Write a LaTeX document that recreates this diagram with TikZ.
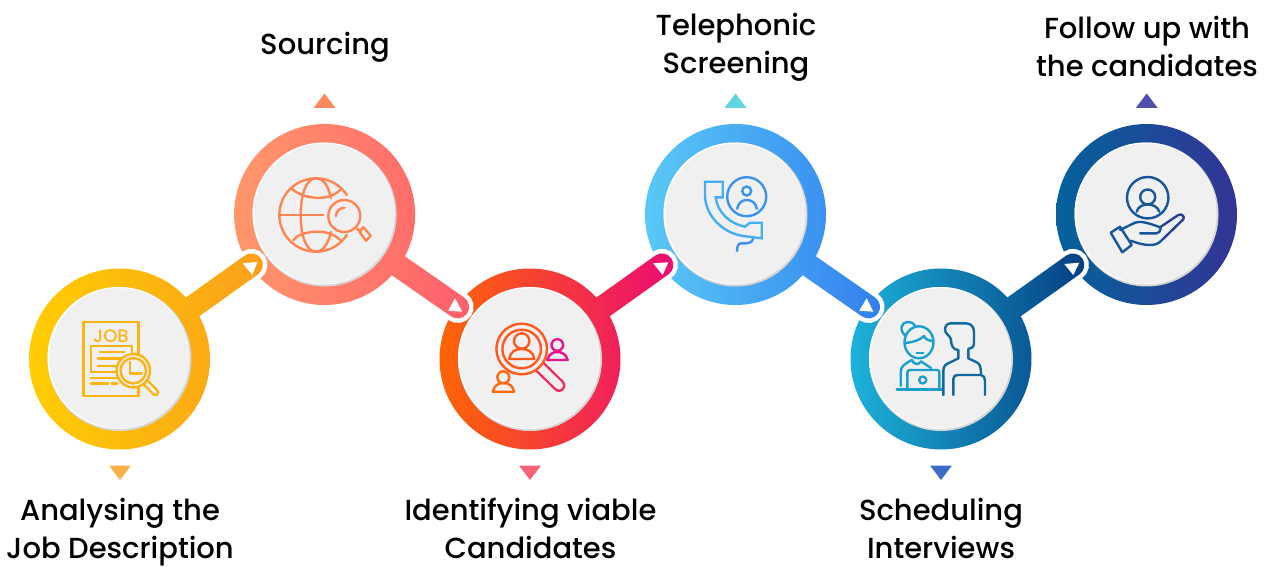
\documentclass[tikz,border=0pt]{standalone}
\usepackage{fontspec}
\setmainfont{Poppins}[UprightFont={* Medium}]
\usetikzlibrary{calc}
\usepackage{xcolor}
\definecolor{discgray}{HTML}{f0f0f0}
\definecolor{discshade}{HTML}{d6d6d6}
\definecolor{ringl1}{HTML}{ffd000}
\definecolor{ringr1}{HTML}{f9a01b}
\definecolor{ringl2}{HTML}{ff9a6b}
\definecolor{ringr2}{HTML}{ff5f6b}
\definecolor{ringl3}{HTML}{ff6a00}
\definecolor{ringr3}{HTML}{ec0b75}
\definecolor{ringl4}{HTML}{5ccdf5}
\definecolor{ringr4}{HTML}{327fef}
\definecolor{ringl5}{HTML}{1eb8de}
\definecolor{ringr5}{HTML}{043e80}
\definecolor{ringl6}{HTML}{04629c}
\definecolor{ringr6}{HTML}{343494}
\definecolor{jobicon}{HTML}{fbb414}
\definecolor{webicon}{HTML}{ff8552}
\definecolor{findicon}{HTML}{ff5a1e}
\definecolor{findhandle}{HTML}{f42a5e}
\definecolor{findright}{HTML}{e8148a}
\definecolor{findleft}{HTML}{ff6a10}
\definecolor{phoneicon}{HTML}{45aef2}
\definecolor{phonecall}{HTML}{3b92ef}
\definecolor{womanicon}{HTML}{1b9fcb}
\definecolor{manicon}{HTML}{12699f}
\definecolor{careicon}{HTML}{17569a}
\definecolor{caretip}{HTML}{2d3f94}
\tikzset{
  steplabel/.style={font=\fontsize{29}{38}\selectfont,align=center,inner sep=0pt},
  iconline/.style={line width=2.4pt,line join=round,line cap=round},
  capsule/.style={double=discgray,double distance=#1,line width=2.4pt,line cap=round},
  capsule/.default=3pt
}
\begin{document}
\begin{tikzpicture}[x=1pt,y=1pt,yscale=-1]
          \useasboundingbox (0,0) rectangle (1266,567);
          \foreach \n/\x/\y in {1/119.5/359,2/324.6/214.5,3/530/359,4/735.5/214.5,5/941/359,6/1146.5/214.5}
            \coordinate (ring\n) at (\x,\y);
          \foreach \n/\ang in {6/0,5/-35.5,4/34.8,3/-35.5,2/34.8,1/-35.5}{
            \ifnum\n<6
              \begin{scope}[shift={(ring\n)},rotate=\ang]
                \draw[white,line width=9pt] (0,-11.5) -- (162,-11.5) arc (-90:90:11.5) -- (0,11.5);
                \shade[left color=ringl\n,right color=ringr\n] (0,0) circle (90.5) (0,-11.5) -- (162,-11.5) arc (-90:90:11.5) -- (0,11.5) -- cycle;
              \end{scope}
            \else
              \shade[left color=ringl\n,right color=ringr\n] (ring\n) circle (90.5);
            \fi
            \fill[discshade] (ring\n) circle (72);
            \fill[white] ($(ring\n)+(-1,-1)$) circle (71);
            \node[circle,fill=discgray,minimum size=140pt,inner sep=0pt] (disc\n) at ($(ring\n)+(-0.3,-0.8)$) {};
          }
          \fill[white] (242.7,263.3) -- (257.3,262) -- (252.3,275) -- cycle;
          \fill[white] (448.3,310.7) -- (462.3,311.7) -- (455,298.3) -- cycle;
          \fill[white] (653.3,263.3) -- (668.3,262.3) -- (662.7,275) -- cycle;
          \fill[white] (859.3,310.7) -- (873.3,311.7) -- (866.7,298.3) -- cycle;
          \fill[white] (1064.3,264) -- (1079.3,262.7) -- (1073.3,275) -- cycle;
          \foreach \x/\c in {120/fbb04a,530/f4637a,941/3c6bc8}{
            \definecolor{markcol}{HTML}{\c}
            \fill[markcol] (\x-11,465.5) -- (\x+11,465.5) -- (\x,480) -- cycle;
          }
          \foreach \x/\c in {324.5/ff8a5f,735.5/5fd6e0,1146.7/4f4fb0}{
            \definecolor{markcol}{HTML}{\c}
            \fill[markcol] (\x-11,108) -- (\x+11,108) -- (\x,93.5) -- cycle;
          }
          \node[steplabel] (label1) at (120,532) {Analysing the\\Job Description};
          \node[steplabel] (label2) at (325,47) {Sourcing};
          \node[steplabel] (label3) at (530.5,528) {Identifying viable\\Candidates};
          \node[steplabel] (label4) at (736,47) {Telephonic\\Screening};
          \node[steplabel] (label5) at (941,528) {Scheduling\\Interviews};
          \node[steplabel] (label6) at (1147,46) {Follow up with\\the candidates};
          % job
          \begin{scope}[iconline,jobicon]
            \draw (138.3,355) -- (138.3,321.7) -- (83.3,321.7) -- (83.3,395.7) -- (138.3,395.7) -- (138.3,387);
            \node[text=jobicon,font=\fontsize{18}{18}\selectfont,inner sep=0pt] (jobword) at (111,336) {JOB};
            \draw (131.7,355) -- (131.7,345.7) -- (91,345.7) -- (91,371.7) -- (116.7,371.7);
            \draw (100,351.7) -- (124.3,351.7) (97.7,358.3) -- (121.7,358.3) (97.7,365.7) -- (116.7,365.7);
            \draw (90.7,377.7) -- (116.7,377.7) (90.7,383.3) -- (108.3,383.3) (111.7,383.3) -- (117.3,383.3);
            \draw[capsule=3pt] (143,379.7) -- (155.5,392.5);
            \draw[fill=discgray] (133.3,370.7) circle (16.7);
            \draw (133.3,370.7) circle (12.7);
            \draw (130,361.7) -- (130,373.3) -- (141.7,373.3);
          \end{scope}
          % web
          \begin{scope}[iconline,webicon]
            \draw (316,215) ++(-33:36.7) arc (-33:-327:36.7);
            \draw (331,232) .. controls (329,241) and (324,251.7) .. (316,251.7) .. controls (306,251.7) and (300.7,235) .. (300.7,215) .. controls (300.7,195) and (306,178.3) .. (316,178.3) .. controls (323,178.3) and (328,185) .. (331,198);
            \draw (280,215) -- (323.3,215);
            \draw (291.7,188.3) .. controls (300,198) and (328,203) .. (340,190);
            \draw (293.3,240) .. controls (300,231) and (328,227) .. (340,240);
            \draw (344.3,216) circle (16);
            \draw (336,216) arc (180:270:8.3);
            \draw (356,228) -- (361,232);
            \draw (359.3,231.7) -- (363.3,227.3) -- (370.7,235.7) -- (366,240.7) -- cycle;
          \end{scope}
          % find
          \begin{scope}[iconline]
            \draw[findhandle,capsule=8pt] (535,362) -- (559,385.5);
            \draw[findicon,fill=discgray] (521.7,349) circle (25.3);
            \draw[findicon] (521.7,349) circle (19.3);
            \draw[findicon] (521.7,341) circle (7.7);
            \draw[findicon] (509.3,359) .. controls (510,352) and (515,349) .. (521.7,349) .. controls (528,349) and (533.5,352) .. (534.3,359) -- cycle;
            \draw[findright] (557.3,345) circle (5.8);
            \draw[findright] (547.3,360) .. controls (549,354) and (553,352) .. (557.3,352) .. controls (562,352) and (566,354) .. (567.7,360) -- cycle;
            \draw[findleft] (503.3,377.3) circle (6);
            \draw[findleft] (492.7,391.7) .. controls (494,386) and (498,383) .. (503.3,383) .. controls (509,383) and (513,386) .. (514,391.7) -- cycle;
          \end{scope}
          % phone
          \begin{scope}[iconline,line cap=butt,line join=miter]
            \draw[phoneicon] (705,181.7) -- (722.7,181.7) -- (722.7,197.3) -- (715.7,197.3) .. controls (717,212) and (730,224) .. (745,226.7) -- (750,222.7) -- (761.7,222.7) -- (761.7,238.3) -- (743.3,236) .. controls (722,233) and (705,215) .. (705,195) -- cycle;
            \draw[phonecall] (753.3,238.3) .. controls (752,242) and (750,243.3) .. (746.7,243.3) -- (741,243.3) .. controls (738,243.3) and (737,247) .. (737,251.7);
            \draw[phonecall] (746.7,196.7) circle (19.5);
            \draw[phonecall] (746.7,191) circle (4.5);
            \draw[phonecall] (737,209.5) .. controls (738,203) and (742,200) .. (746.7,200) .. controls (752,200) and (756,203) .. (757,209.5);
          \end{scope}
          % meeting
          \begin{scope}[iconline]
            \draw[womanicon] (919,342.3) ellipse (14.5 and 16);
            \draw[womanicon] (906,336) .. controls (898,330) and (902,322) .. (907,322) .. controls (912,322) and (915,324) .. (915,327);
            \draw[womanicon] (905.5,343) .. controls (915,342) and (921,339) .. (924,336) .. controls (925,339) and (929,341) .. (933,341);
            \draw[womanicon] (916.7,352.7) -- (923.3,352.7);
            \draw[womanicon] (900.7,386) -- (900.7,372) .. controls (900.7,366) and (905,364) .. (911.7,360);
            \draw[womanicon] (911.7,360) .. controls (914,365) and (919,365) .. (921,361.5);
            \draw[womanicon] (921,361.5) -- (931,368);
            \draw[womanicon] (907.3,389) -- (907.3,373) .. controls (907.3,371) and (908,370) .. (910,370) -- (937,370) .. controls (939,370) and (939.3,371) .. (939.3,373) -- (939.3,389);
            \draw[womanicon] (896.7,389.3) -- (943.3,389.3);
            \draw[womanicon] (922.7,380) circle (3.5);
            \draw[manicon] (958.3,358.3) -- (958.3,350) .. controls (953,350) and (951,345) .. (951,340) .. controls (951,336) and (945,334) .. (945,330) .. controls (945,326) and (947,323.3) .. (951,323.3) -- (966,323.3) .. controls (971,323.3) and (974,327) .. (974,332) -- (974,343) .. controls (974,347) and (971,349) .. (968.3,349) -- (968.3,358.3);
            \draw[manicon] (943.3,395) -- (943.3,371) .. controls (943.3,366) and (946,364) .. (950,362.5) -- (958.3,358.3);
            \draw[manicon] (968.3,358.3) -- (977,362.5) .. controls (980,364) and (981,367) .. (981,375);
            \draw[manicon] (953.3,395) -- (953.3,379) .. controls (953.3,376) and (955,375) .. (958,375) -- (981,375) .. controls (984,375) and (985,378) .. (985,381) -- (985,395);
          \end{scope}
          % care
          \begin{scope}[iconline]
            \draw[careicon] (1147.7,197.7) circle (20.7);
            \draw[careicon] (1147.7,197) circle (7.5);
            \draw[careicon] (1136.7,211.7) .. controls (1138,207) and (1142,204.5) .. (1147.7,204.5) .. controls (1153,204.5) and (1158,207) .. (1159.3,211.7);
            \draw[careicon] (1110.7,232.7) -- (1120,226.7) -- (1131.7,245) -- (1122.3,252.3) -- cycle;
            \draw[careicon] (1120,230) -- (1135,222.7) .. controls (1140,221) and (1146,222) .. (1160,227.3);
            \draw[caretip] (1160,227.3) -- (1178.3,215) .. controls (1182,213) and (1185,217) .. (1183.3,219.3);
            \draw[caretip] (1183.3,219.3) -- (1162,240);
            \draw[careicon] (1162,240) .. controls (1158,244) and (1155,245) .. (1150,245) .. controls (1143,245) and (1137,243) .. (1130.7,240.7);
            \draw[careicon] (1140,233.3) -- (1156.7,233.3) .. controls (1159,233) and (1160.7,231) .. (1160.7,228.3);
          \end{scope}
\end{tikzpicture}
\end{document}
